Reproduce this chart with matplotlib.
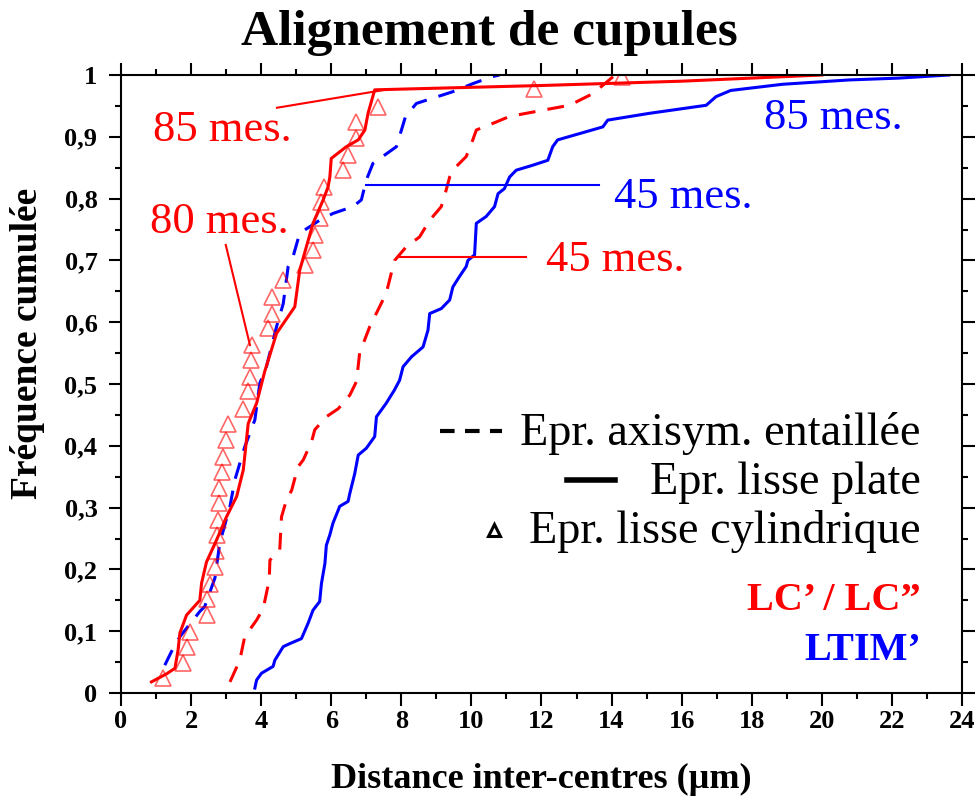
import matplotlib
matplotlib.use('Agg')
import matplotlib.pyplot as plt
from matplotlib.lines import Line2D
from matplotlib.ticker import MultipleLocator, FixedLocator

# LC' / LC'' - eprouvette lisse plate (85 mes.)
lc_plate_x = [0.87, 1.30, 1.54, 1.63, 1.68, 1.87, 2.25, 2.30, 2.44, 2.73, 3.01, 3.30, 3.49, 3.63,
              3.87, 4.10, 4.44, 4.96, 5.10, 5.48, 5.77, 5.91, 5.96, 6.00, 6.43, 6.77, 6.96, 7.05,
              7.24, 7.9, 12.0, 16.0, 20.0]
lc_plate_y = [0.018, 0.031, 0.04, 0.07, 0.097, 0.126, 0.15, 0.178, 0.212, 0.248, 0.285, 0.318,
              0.361, 0.436, 0.469, 0.52, 0.582, 0.625, 0.684, 0.76, 0.798, 0.819, 0.835, 0.865,
              0.884, 0.895, 0.911, 0.938, 0.976, 0.977, 0.983, 0.99, 1.0]

# LC' / LC'' - eprouvette axisym. entaillee (45 mes.)
lc_notch_x = [3.11, 3.39, 3.53, 3.87, 4.06, 4.23, 4.25, 4.53, 4.58, 4.72, 4.87, 5.05, 5.20, 5.44,
              5.53, 5.86, 6.2, 6.53, 6.72, 6.81, 7.10, 7.38, 7.57, 7.76, 7.81, 8.14, 8.52, 8.81,
              9.14, 9.28, 9.38, 9.57, 9.85, 10.04, 10.14, 10.71, 11.09, 12.32, 12.8, 13.47, 14.1]
lc_notch_y = [0.018, 0.053, 0.091, 0.118, 0.137, 0.183, 0.215, 0.231, 0.285, 0.312, 0.328, 0.366,
              0.377, 0.407, 0.426, 0.447, 0.46, 0.482, 0.504, 0.55, 0.593, 0.625, 0.647, 0.69,
              0.70, 0.722, 0.738, 0.765, 0.787, 0.814, 0.835, 0.852, 0.868, 0.895, 0.911, 0.924,
              0.933, 0.946, 0.951, 0.97, 1.0]

# LC' / LC'' - eprouvette lisse cylindrique (80 mes.)
lc_cyl_x = [1.21, 1.78, 1.87, 1.97, 2.44, 2.46, 2.55, 2.68, 2.71, 2.73, 2.76, 2.79, 2.79, 2.87,
            2.92, 2.99, 3.04, 3.49, 3.63, 3.68, 3.71, 3.73, 4.20, 4.30, 4.30, 4.63, 5.25, 5.48,
            5.53, 5.67, 5.72, 5.79, 6.34, 6.48, 6.70, 6.70, 7.33, 11.8, 14.3]
lc_cyl_y = [0.024, 0.048, 0.075, 0.099, 0.126, 0.152, 0.177, 0.204, 0.229, 0.256, 0.28, 0.307,
            0.331, 0.358, 0.382, 0.409, 0.435, 0.46, 0.488, 0.512, 0.539, 0.563, 0.59, 0.614,
            0.641, 0.668, 0.693, 0.717, 0.741, 0.768, 0.795, 0.819, 0.846, 0.871, 0.898, 0.924,
            0.949, 0.977, 0.997]

# LTIM' - eprouvette axisym. entaillee (45 mes.)
ltim_notch_x = [1.25, 1.44, 1.68, 2.25, 2.39, 2.68, 2.82, 3.11, 3.25, 3.53, 3.82, 3.96, 4.15, 4.44,
                4.63, 4.77, 4.91, 5.10, 5.67, 6.05, 6.62, 6.86, 7.0, 7.19, 7.86, 8.12, 8.43, 9.47,
                10.04, 10.57, 10.8]
ltim_notch_y = [0.045, 0.067, 0.091, 0.132, 0.14, 0.186, 0.243, 0.302, 0.345, 0.398, 0.442, 0.501,
                0.528, 0.593, 0.63, 0.69, 0.706, 0.744, 0.765, 0.776, 0.787, 0.798, 0.83, 0.857,
                0.884, 0.933, 0.954, 0.973, 0.986, 0.997, 1.0]

# LTIM' - eprouvette lisse plate (85 mes.)
ltim_plate_x = [3.82, 3.87, 4.01, 4.34, 4.39, 4.63, 4.82, 5.15, 5.34, 5.48, 5.67, 5.72, 5.82, 5.86,
                5.96, 6.05, 6.2, 6.24, 6.48, 6.53, 6.67, 6.77, 7.0, 7.24, 7.29, 7.57, 7.8, 7.95,
                8.05, 8.29, 8.62, 8.76, 8.81, 9.14, 9.38, 9.47, 9.66, 9.85, 9.9, 10.09, 10.14,
                10.42, 10.66, 10.76, 10.94, 11.09, 11.28, 11.75, 12.18, 12.32, 12.46, 13.75, 13.89,
                15.08, 16.7, 16.98, 17.4, 18.88, 20.78, 22.2, 23.63]
ltim_plate_y = [0.008, 0.021, 0.032, 0.043, 0.053, 0.075, 0.08, 0.088, 0.113, 0.134, 0.148, 0.177,
                0.21, 0.239, 0.256, 0.275, 0.296, 0.302, 0.31, 0.323, 0.355, 0.385, 0.396, 0.415,
                0.447, 0.469, 0.49, 0.506, 0.528, 0.544, 0.56, 0.587, 0.614, 0.622, 0.636, 0.657,
                0.674, 0.69, 0.70, 0.709, 0.76, 0.771, 0.787, 0.808, 0.816, 0.835, 0.846, 0.854,
                0.862, 0.884, 0.895, 0.916, 0.927, 0.938, 0.951, 0.965, 0.975, 0.985, 0.992, 0.995,
                1.0]

x_ticks = list(range(0, 25, 2))
y_ticks = [0, 0.1, 0.2, 0.3, 0.4, 0.5, 0.6, 0.7, 0.8, 0.9, 1.0]
y_tick_labels = ['0', '0,1', '0,2', '0,3', '0,4', '0,5', '0,6', '0,7', '0,8', '0,9', '1']

RED = '#ff0000'
BLUE = '#0000ff'
SERIF = ['Liberation Serif', 'DejaVu Serif']

plt.rcParams['font.family'] = SERIF

fig = plt.figure(figsize=(9.78, 8.0), dpi=100)
ax = fig.add_axes([121 / 978, 1 - 693 / 800, (962 - 121) / 978, (693 - 75) / 800])

lw = 2.2
dash = (5.5, 4)
ax.plot(ltim_plate_x, ltim_plate_y, color=BLUE, lw=lw)
ax.plot(ltim_notch_x, ltim_notch_y, color=BLUE, lw=lw, dashes=dash)
ax.plot(lc_notch_x, lc_notch_y, color=RED, lw=lw, dashes=dash)
ax.plot(lc_plate_x, lc_plate_y, color=RED, lw=lw)
ax.plot(lc_cyl_x, lc_cyl_y, ls='none', marker='^', markersize=11, mfc='none',
        mec=(1, 0, 0, 0.6), mew=1.2)

# annotations
ann_size = 32
ax.text(0.91, 0.911, '85 mes.', color=RED, fontsize=ann_size, va='center')
ax.plot([4.45, 7.53], [0.947, 0.976], color=RED, lw=1.5)
ax.text(0.83, 0.762, '80 mes.', color=RED, fontsize=ann_size, va='center')
ax.plot([2.99, 3.68], [0.725, 0.563], color=RED, lw=1.5)
ax.text(14.08, 0.803, '45 mes.', color=BLUE, fontsize=ann_size, va='center')
ax.plot([6.98, 13.65], [0.822, 0.822], color=BLUE, lw=1.5)
ax.text(12.14, 0.70, '45 mes.', color=RED, fontsize=ann_size, va='center')
ax.plot([7.95, 11.55], [0.705, 0.705], color=RED, lw=1.5)
ax.text(18.36, 0.930, '85 mes.', color=BLUE, fontsize=ann_size, va='center')

# legend drawn by hand (right aligned text)
def fx(px):
    return px / 978

def fy(py):
    return 1 - py / 800

leg_size = 33.3
right = 921
rows = [445, 494, 543]
fig.text(fx(right), fy(rows[0]), 'Epr. axisym. entaillée', fontsize=leg_size, ha='right', va='baseline')
fig.text(fx(right), fy(rows[1]), 'Epr. lisse plate', fontsize=leg_size, ha='right', va='baseline')
fig.text(fx(right), fy(rows[2]), 'Epr. lisse cylindrique', fontsize=leg_size, ha='right', va='baseline')
fig.add_artist(Line2D([fx(440), fx(502)], [fy(rows[0] - 14)] * 2, color='black', lw=3,
                      dashes=(3.5, 2.5), transform=fig.transFigure))
fig.add_artist(Line2D([fx(567), fx(615)], [fy(rows[1] - 14)] * 2, color='black', lw=4,
                      transform=fig.transFigure))
fig.add_artist(Line2D([fx(494)], [fy(rows[2] - 13)], marker='^', markersize=8, mfc='white',
                      mec='black', mew=2.2, transform=fig.transFigure))

fig.text(fx(921), fy(600), 'LC\u2019 / LC\u201d', color=RED, fontsize=29, fontweight='bold',
         ha='right', va='center')
fig.text(fx(921), fy(650), 'LTIM\u2019', color=BLUE, fontsize=29, fontweight='bold',
         ha='right', va='center')

# axes styling
ax.set_xlim(0, 24)
ax.set_ylim(0, 1)
ax.xaxis.set_major_locator(FixedLocator(x_ticks))
ax.xaxis.set_minor_locator(MultipleLocator(1))
ax.yaxis.set_major_locator(FixedLocator(y_ticks))
ax.yaxis.set_minor_locator(MultipleLocator(0.05))
ax.set_yticklabels(y_tick_labels)
ax.set_xticklabels([str(t) for t in x_ticks])
ax.tick_params(which='both', direction='out', top=True, right=True, width=1.5)
ax.tick_params(which='major', length=9)
ax.tick_params(which='minor', length=4.5)
ax.tick_params(axis='x', pad=3)
ax.tick_params(axis='y', pad=8)
for lab in ax.get_xticklabels() + ax.get_yticklabels():
    lab.set_fontweight('bold')
    lab.set_fontsize(19)
for sp in ax.spines.values():
    sp.set_linewidth(1.5)

ax.set_xlabel('Distance inter-centres (µm)', fontsize=26, fontweight='bold', labelpad=22)
ax.set_ylabel('Fréquence cumulée', fontsize=27, fontweight='bold')
ax.yaxis.set_label_coords(-0.09, 0.565)

fig.text(0.5, fy(45), 'Alignement de cupules', fontsize=37, fontweight='bold',
         ha='center', va='baseline')

fig.savefig('out.png', dpi=100)
